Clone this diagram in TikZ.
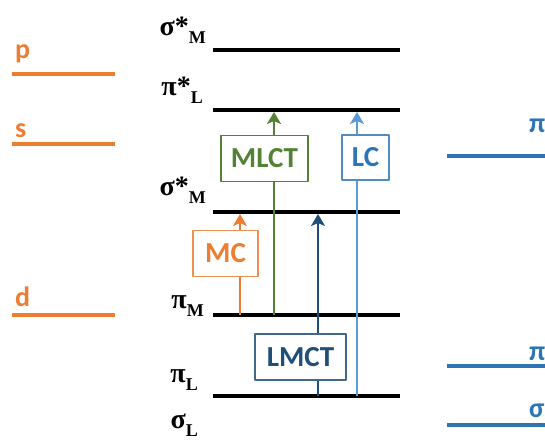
\documentclass[tikz,border=0pt]{standalone}
\usepackage{fontspec}
\setmainfont{Liberation Serif}
\newfontfamily\boxfont{Carlito}
\usetikzlibrary{arrows.meta}
\definecolor{orng}{RGB}{237,125,49}
\definecolor{grn}{RGB}{84,130,53}
\definecolor{dkblue}{RGB}{31,78,121}
\definecolor{ltblue}{RGB}{91,155,213}
\definecolor{mdblue}{RGB}{46,117,182}
\newcommand\orb[2]{\textbf{#1\raisebox{-8pt}{\fontsize{18}{18}\selectfont #2}}}
\tikzset{
  lvl/.style = {line width=3.5pt},
  side/.style = {line width=3.5pt},
  tag/.style = {inner sep=0pt, anchor=base east, font=\fontsize{28}{30}\selectfont},
  sidetag/.style = {inner sep=0pt, anchor=base west, font=\boxfont\bfseries\fontsize{28}{30}\selectfont},
  trans/.style = {line width=2pt, -{Stealth[length=12pt,width=14pt,inset=3pt]}},
  tbox/.style = {draw, line width=1.2pt, fill=white, inner sep=0pt,
                 minimum height=46pt, font=\boxfont\bfseries\fontsize{29}{30}\selectfont}
}
\begin{document}
\begin{tikzpicture}[x=1pt, y=-1pt, line join=round]
  \useasboundingbox (0,0) rectangle (545,446);
  % energy levels of the complex
  \draw[lvl] (213,50) -- (400,50);
  \draw[lvl] (213,110) -- (400,110);
  \draw[lvl] (213,212) -- (400,212);
  \draw[lvl] (213,315) -- (400,315);
  \draw[lvl] (213,396) -- (400,396);
  \node[tag] (smtop) at (206,36) {\orb{σ*}{M}};
  \node[tag] (pil) at (203,96) {\orb{π*}{L}};
  \node[tag] (smmid) at (206,196) {\orb{σ*}{M}};
  \node[tag] (pim) at (204,308) {\orb{π}{M}};
  \node[tag] (pild) at (198,382) {\orb{π}{L}};
  \node[tag] (sigl) at (198,428) {\orb{σ}{L}};
  % metal orbitals
  \draw[side, orng] (12,74) -- (115,74);
  \draw[side, orng] (12,144) -- (115,144);
  \draw[side, orng] (12,315) -- (115,315);
  \node[sidetag, text=orng] (p) at (15,59) {p};
  \node[sidetag, text=orng] (s) at (15,138) {s};
  \node[sidetag, text=orng] (d) at (15,306) {d};
  % ligand orbitals
  \draw[side, mdblue] (447,156) -- (550,156);
  \draw[side, mdblue] (447,366) -- (550,366);
  \draw[side, mdblue] (447,425) -- (550,425);
  \node[sidetag, text=mdblue] (pistar) at (529,133) {π*};
  \node[sidetag, text=mdblue] (pi) at (529,360) {π};
  \node[sidetag, text=mdblue] (sigma) at (529,417) {σ};
  % transitions
  \coordinate (mcA) at (240,315);   \coordinate (mcB) at (240,214);
  \coordinate (mlA) at (274,315);   \coordinate (mlB) at (274,112);
  \coordinate (lmA) at (318,396);   \coordinate (lmB) at (318,214);
  \coordinate (lcA) at (357,396);   \coordinate (lcB) at (357,112);
  \draw[trans, orng] (mcA) -- (mcB);
  \draw[trans, grn] (mlA) -- (mlB);
  \draw[trans, dkblue] (lmA) -- (lmB);
  \draw[trans, ltblue] (lcA) -- (lcB);
  \node[tbox, draw=orng!85, text=orng, minimum width=65pt] (mc) at (225.5,253.5) {MC};
  \node[tbox, draw=grn, text=grn, minimum width=87pt] (mlct) at (264.5,158.5) {MLCT};
  \node[tbox, draw=dkblue!85, text=dkblue, minimum width=91pt] (lmct) at (300.5,357) {LMCT};
  \node[tbox, draw=ltblue!90!black, text=mdblue, minimum width=47pt, minimum height=45pt] (lc) at (365.5,157.5) {LC};
\end{tikzpicture}
\end{document}
